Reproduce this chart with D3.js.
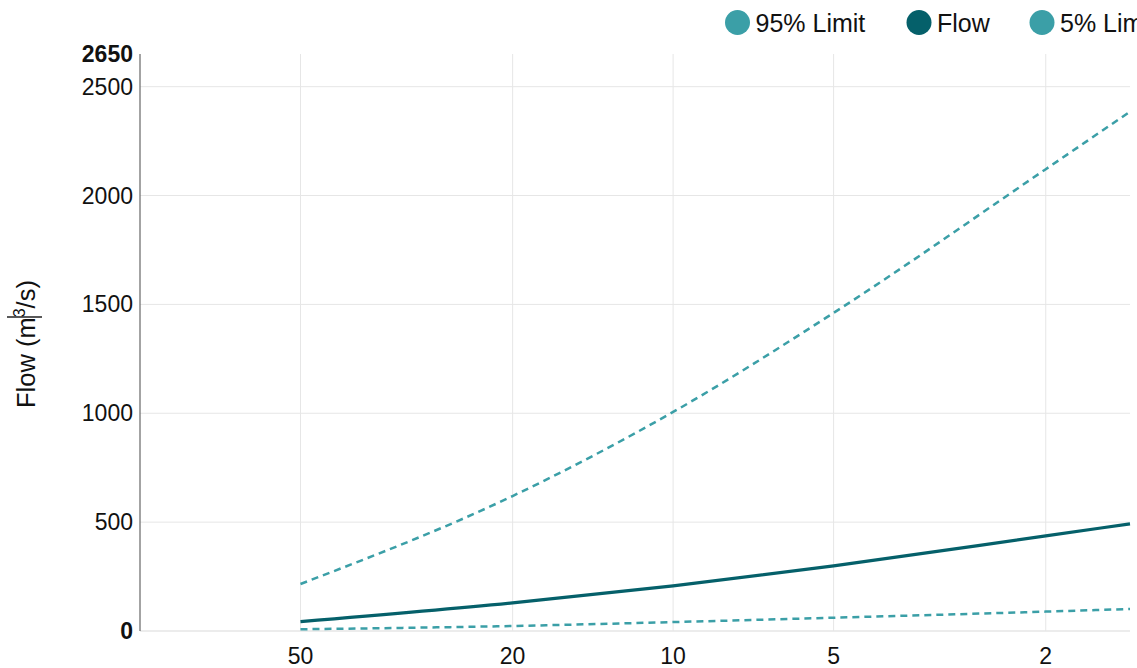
<!DOCTYPE html>
<html><head><meta charset="utf-8">
<script src="https://cdn.jsdelivr.net/npm/d3@7"></script>
<style>body{margin:0;background:#fff;overflow:hidden}svg{display:block}text{font-family:"Liberation Sans",Arial,sans-serif;fill:#111}</style>
</head><body><svg id="c" width="1137" height="668"></svg>
<script>
const returnPeriods = [50, 20, 10, 5, 2, 1.39];
const flow      = [43, 129, 207, 299, 437, 492];
const upper95   = [216, 620, 1006, 1461, 2121, 2385];
const lower5    = [8, 23, 41, 61, 89, 101];
const xTicks = [50, 20, 10, 5, 2];
const yTicks = [0, 500, 1000, 1500, 2000, 2500, 2650];
const legendItems = ["95% Limit", "Flow", "5% Limit"];
const colLimit = "#3b9fa7", colFlow = "#05606a";

const svg = d3.select("#c");
const L = 140, R = 1130, T = 54, B = 631;
const x = d3.scaleLog().domain([100, 1.39]).range([L, R]);
const y = d3.scaleLinear().domain([0, 2650]).range([B, T]);

// grid
svg.append("g").selectAll("line").data(xTicks).join("line")
  .attr("x1", d => x(d)).attr("x2", d => x(d)).attr("y1", T).attr("y2", B)
  .attr("stroke", "#e6e6e6").attr("stroke-width", 1);
svg.append("g").selectAll("line").data(yTicks.filter(v => v > 0 && v < 2650)).join("line")
  .attr("x1", L).attr("x2", R).attr("y1", d => y(d)).attr("y2", d => y(d))
  .attr("stroke", "#e6e6e6").attr("stroke-width", 1);
svg.append("line").attr("x1", L).attr("x2", R).attr("y1", B).attr("y2", B)
  .attr("stroke", "#e6e6e6").attr("stroke-width", 1.5);
svg.append("line").attr("x1", L).attr("x2", L).attr("y1", T).attr("y2", B)
  .attr("stroke", "#666").attr("stroke-width", 1.2);

// y tick labels
svg.append("g").selectAll("text").data(yTicks).join("text")
  .attr("x", L - 7).attr("y", d => y(d)).attr("dy", "0.35em")
  .attr("text-anchor", "end").attr("font-size", 23)
  .attr("font-weight", d => (d === 0 || d === 2650) ? "bold" : "normal")
  .text(d => d);
// x tick labels
svg.append("g").selectAll("text").data(xTicks).join("text")
  .attr("x", d => x(d)).attr("y", 664).attr("text-anchor", "middle")
  .attr("font-size", 23).text(d => d);

// y axis title
const yt = svg.append("text").attr("transform", "translate(35,344) rotate(-90)")
  .attr("text-anchor", "middle").attr("font-size", 25.5);
yt.append("tspan").text("Flow (m");
yt.append("tspan").attr("font-size", 16).attr("dy", -10).text("3");
yt.append("tspan").attr("dy", 10).text("/s)");
svg.append("line").attr("x1", 7).attr("x2", 42).attr("y1", 317).attr("y2", 317)
  .attr("stroke", "#222").attr("stroke-width", 1.3);

// lines
const pts = arr => returnPeriods.map((p, i) => [p, arr[i]]);
const line = d3.line().x(d => x(d[0])).y(d => y(d[1])).curve(d3.curveMonotoneX);
svg.append("path").attr("d", line(pts(upper95))).attr("fill", "none")
  .attr("stroke", colLimit).attr("stroke-width", 2.5).attr("stroke-dasharray", "7,5");
svg.append("path").attr("d", line(pts(lower5))).attr("fill", "none")
  .attr("stroke", colLimit).attr("stroke-width", 2.5).attr("stroke-dasharray", "7,5");
svg.append("path").attr("d", line(pts(flow))).attr("fill", "none")
  .attr("stroke", colFlow).attr("stroke-width", 3.2);

// legend
const legX = [737.5, 919, 1042], legC = [colLimit, colFlow, colLimit];
const lg = svg.append("g").selectAll("g").data(legendItems).join("g")
  .attr("transform", (d, i) => `translate(${legX[i]},22.5)`);
lg.append("circle").attr("r", 12.5).attr("fill", (d, i) => legC[i]);
lg.append("text").attr("x", 18).attr("dy", "0.36em").attr("font-size", 25).text(d => d);
</script></body></html>
